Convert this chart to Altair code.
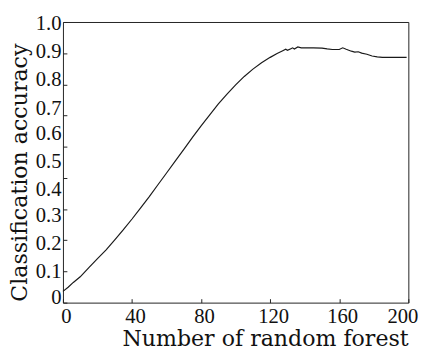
import altair as alt
import pandas as pd

# Number of random forest (x) and classification accuracy (y)
n_trees = [0, 3, 6, 10, 15, 20, 25, 30, 35, 40, 45, 50, 55, 60, 65, 70, 75, 80, 85, 90,
           95, 100, 105, 110, 115, 120, 124, 127, 129, 130, 132, 133, 134, 136, 138, 141,
           145, 150, 153, 156, 160, 162, 164, 167, 169, 171, 173, 176, 179, 182, 185,
           190, 195, 199]
accuracy = [0.040, 0.055, 0.072, 0.092, 0.125, 0.157, 0.188, 0.224, 0.260, 0.298,
            0.338, 0.378, 0.420, 0.462, 0.504, 0.546, 0.589, 0.630, 0.669, 0.708,
            0.743, 0.776, 0.806, 0.832, 0.855, 0.874, 0.888, 0.897, 0.903, 0.899,
            0.905, 0.908, 0.904, 0.911, 0.908, 0.908, 0.908, 0.907, 0.904, 0.902,
            0.902, 0.908, 0.903, 0.896, 0.893, 0.894, 0.889, 0.885, 0.879, 0.876,
            0.874, 0.874, 0.874, 0.874]

x_ticks = [0, 40, 80, 120, 160, 200]
y_labels = [0, 0.1, 0.2, 0.3, 0.4, 0.5, 0.6, 0.7, 0.8, 0.9, 1.0]
# the original figure's y tick marks split the axis in nine equal parts
y_tick_marks = [k / 9 for k in range(10)]

df = pd.DataFrame({"n": n_trees, "acc": accuracy})

LABEL_FONT = "Liberation Serif"
TITLE_FONT = "DejaVu Serif"
INK = "#111111"

x_axis = alt.Axis(
    title="Number of random forest",
    values=x_ticks,
    format="d",
    grid=False,
    domain=False,
    offset=-4,
    tickSize=4,
    tickWidth=1,
    tickColor="#222222",
    labelPadding=3,
    labelOffset={
        "condition": {"test": "datum.value == 200", "value": -6},
        "value": 3,
    },
    labelFlush=False,
    labelOverlap=False,
    labelFont=LABEL_FONT,
    labelFontSize=21,
    labelColor=INK,
    titleFont=TITLE_FONT,
    titleFontSize=22.5,
    titleFontWeight="normal",
    titleColor=INK,
    titleX=206,
    titleY=48,
    titleAlign="center",
    titleBaseline="alphabetic",
)

y_label_axis = alt.Axis(
    title="Classification accuracy",
    values=y_labels,
    labelExpr="datum.value == 0 ? '0' : format(datum.value, '.1f')",
    grid=False,
    domain=False,
    ticks=False,
    offset=-4,
    labelPadding=6,
    labelOffset={
        "condition": [
            {"test": "datum.value == 0", "value": -5},
            {"test": "datum.value < 0.35", "value": -3},
            {"test": "datum.value > 0.65", "value": 2},
        ],
        "value": -0.5,
    },
    labelFlush=False,
    labelOverlap=False,
    labelFont=LABEL_FONT,
    labelFontSize=21,
    labelColor=INK,
    titleFont=TITLE_FONT,
    titleFontSize=22.5,
    titleFontWeight="normal",
    titleColor=INK,
    titleAngle=270,
    titleX=-41,
    titleY=153,
    titleAlign="center",
    titleBaseline="alphabetic",
)

y_tick_axis = alt.Axis(
    orient="left",
    title=None,
    values=y_tick_marks,
    labels=False,
    grid=False,
    domain=False,
    offset=-4,
    tickSize=4,
    tickWidth=1,
    tickColor="#222222",
)

y_scale = alt.Scale(domain=[0, 1], nice=False, zero=False)
x_scale = alt.Scale(domain=[0, 200], nice=False, zero=False)

curve = alt.Chart(df).mark_line(color="#1a1a1a", strokeWidth=1.2).encode(
    x=alt.X("n:Q", scale=x_scale, axis=x_axis),
    y=alt.Y("acc:Q", scale=y_scale, axis=y_label_axis),
)

tick_layer = alt.Chart(df).mark_line(strokeOpacity=0).encode(
    x=alt.X("n:Q", scale=x_scale, axis=x_axis),
    y=alt.Y("acc:Q", scale=y_scale, axis=y_tick_axis),
)

chart = alt.layer(curve, tick_layer).resolve_axis(y="independent").properties(
    width=352,
    height=286,
    background="white",
    padding={"left": 56, "top": 11, "right": 18, "bottom": 45},
    autosize=alt.AutoSizeParams(type="none"),
).configure_view(
    stroke="#222222",
    strokeWidth=1,
    fill="white",
)

chart.save("out.html", embed_options={"renderer": "svg", "actions": False})
